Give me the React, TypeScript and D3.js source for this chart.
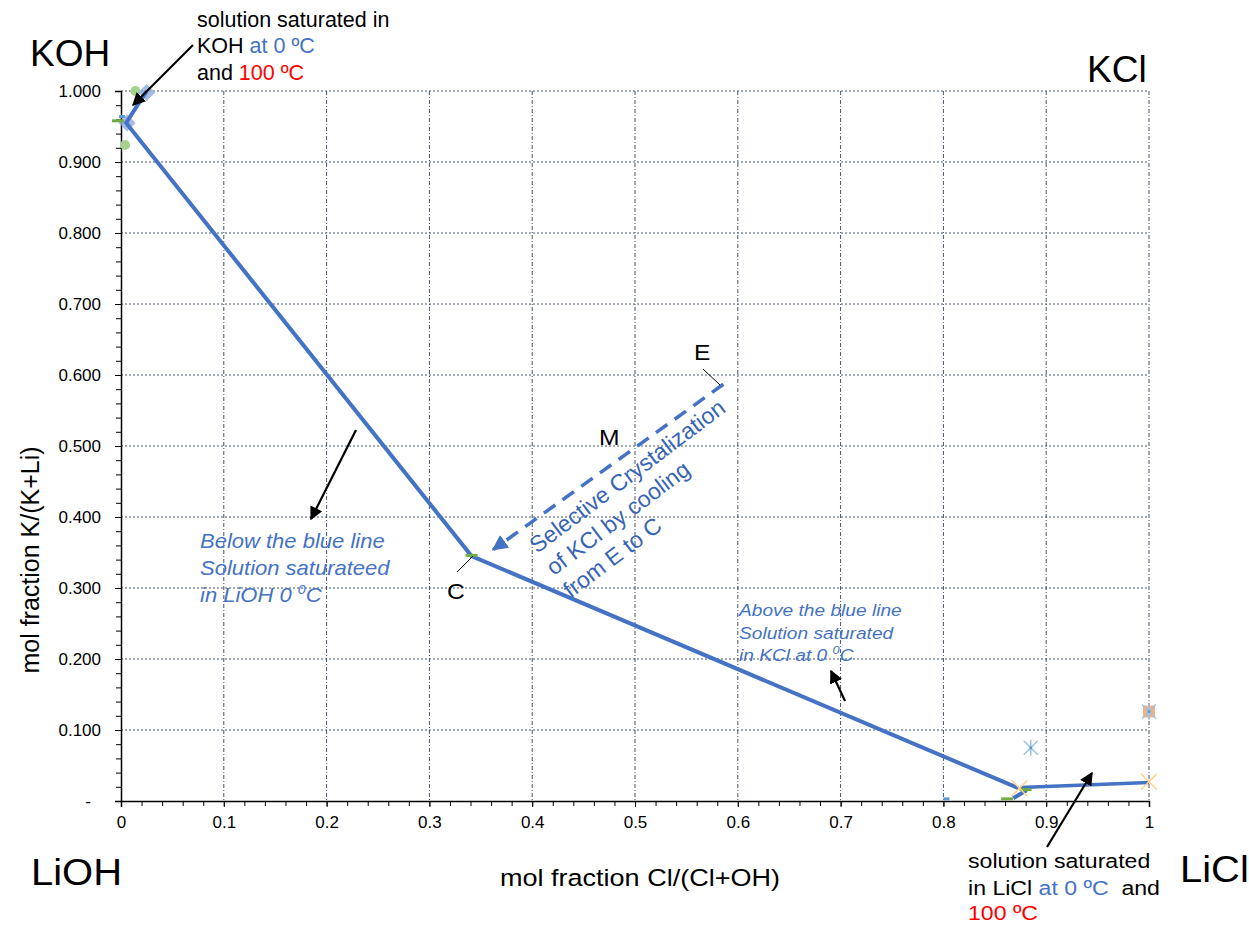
import React, { useEffect, useRef } from 'react'
import * as d3 from 'd3'

// phase diagram data, x = Cl/(Cl+OH), y = K/(K+Li)
const blueLine: [number, number][] = [[0.025, 1.0], [0.005, 0.955], [0.341, 0.345], [0.873, 0.018]]
const blueLine2: [number, number][] = [[0.875, 0.019], [1.0, 0.026]]
const blueStub: [number, number][] = [[0.868, 0.004], [0.881, 0.015]]
const greenDashes: [number, number][] = [[-0.003, 0.958], [0.341, 0.346], [0.862, 0.003], [0.880, 0.016]]
const blueDashes: [number, number][] = [[0.001, 0.964], [0.803, 0.003]]
const greenCircles: [number, number][] = [[0.014, 1.0], [0.004, 0.924]]
const diamonds: [number, number][] = [[0.025, 0.998], [0.006, 0.955]]
const orangeSquares: [number, number][] = [[1.0, 0.126]]
const asterisks: [number, number][] = [[0.885, 0.075], [1.0, 0.126]]
const orangeCrosses: [number, number][] = [[0.874, 0.018], [1.0, 0.027]]
const crystalPath: [number, number][] = [[0.586, 0.587], [0.362, 0.354]]

const xTicks = [0, 0.1, 0.2, 0.3, 0.4, 0.5, 0.6, 0.7, 0.8, 0.9, 1]
const yTicks = [0, 0.1, 0.2, 0.3, 0.4, 0.5, 0.6, 0.7, 0.8, 0.9, 1.0]

const FONT = 'Liberation Sans, Arial, sans-serif'
const BLUE = '#4472c4'

export default function App() {
  const ref = useRef<SVGSVGElement>(null)

  useEffect(() => {
    const svg = d3.select(ref.current)
    svg.selectAll('*').remove()

    const x = d3.scaleLinear().domain([0, 1]).range([121, 1149])
    const y = d3.scaleLinear().domain([0, 1]).range([801, 91])

    const defs = svg.append('defs')
    defs.append('marker')
      .attr('id', 'blackHead')
      .attr('viewBox', '0 0 10 10')
      .attr('refX', 9).attr('refY', 5)
      .attr('markerWidth', 6).attr('markerHeight', 6)
      .attr('markerUnits', 'strokeWidth')
      .attr('orient', 'auto')
      .append('path').attr('d', 'M0,0 L10,5 L0,10 z').attr('fill', '#000')
    defs.append('marker')
      .attr('id', 'blueHead')
      .attr('viewBox', '0 0 10 10')
      .attr('refX', 9).attr('refY', 5)
      .attr('markerWidth', 4.5).attr('markerHeight', 4.5)
      .attr('markerUnits', 'strokeWidth')
      .attr('orient', 'auto')
      .append('path').attr('d', 'M0,0 L10,5 L0,10 z').attr('fill', BLUE)

    // grid
    const grid = svg.append('g')
    grid.selectAll('.vg').data(xTicks.slice(1)).enter().append('line')
      .attr('x1', d => x(d)).attr('x2', d => x(d))
      .attr('y1', y(1)).attr('y2', y(0))
      .attr('stroke', '#44546a').attr('stroke-width', 1).attr('stroke-dasharray', '4,2,1,2')
    grid.selectAll('.hg').data(yTicks.slice(1)).enter().append('line')
      .attr('x1', x(0)).attr('x2', x(1))
      .attr('y1', d => y(d)).attr('y2', d => y(d))
      .attr('stroke', '#44546a').attr('stroke-width', 1).attr('stroke-dasharray', '2,2')

    // axes
    const xAxis = svg.append('g')
      .attr('transform', 'translate(0,' + y(0) + ')')
      .call(d3.axisBottom(x).tickValues(xTicks).tickSize(6).tickFormat(d => String(+(+d).toFixed(1))))
    xAxis.select('.domain').attr('stroke', '#000').attr('stroke-width', 1.5)
    xAxis.selectAll('text').attr('font-family', FONT).attr('font-size', 17).attr('dy', '1.05em')
    svg.append('g')
      .attr('transform', 'translate(0,' + y(0) + ')')
      .call(d3.axisBottom(x).tickValues(d3.range(0, 1.001, 0.02)).tickSize(5).tickFormat(() => ''))
      .select('.domain').remove()

    const yAxis = svg.append('g')
      .attr('transform', 'translate(' + x(0) + ',0)')
      .call(d3.axisLeft(y).tickValues(yTicks).tickSize(6).tickPadding(14)
        .tickFormat(d => (+d === 0 ? '-' : d3.format('.3f')(+d))))
    yAxis.select('.domain').attr('stroke', '#000').attr('stroke-width', 1.5)
    yAxis.selectAll('text').attr('font-family', FONT).attr('font-size', 17)
    yAxis.selectAll('.tick').filter(d => +d === 0).select('text').attr('dx', '-10')
    svg.append('g')
      .attr('transform', 'translate(' + x(0) + ',0)')
      .call(d3.axisLeft(y).tickValues(d3.range(0, 1.001, 0.02)).tickSize(5).tickFormat(() => ''))
      .select('.domain').remove()

    const line = d3.line<[number, number]>().x(d => x(d[0])).y(d => y(d[1]))

    // markers behind lines
    svg.selectAll('.gc').data(greenCircles).enter().append('circle')
      .attr('cx', d => x(d[0])).attr('cy', d => y(d[1])).attr('r', 5)
      .attr('fill', '#a9d18e')
    svg.selectAll('.dm').data(diamonds).enter().append('rect')
      .attr('x', -6).attr('y', -6).attr('width', 12).attr('height', 12)
      .attr('transform', d => 'translate(' + x(d[0]) + ',' + y(d[1]) + ') rotate(45)')
      .attr('fill', '#8faadc').attr('opacity', 0.8)
    svg.selectAll('.os').data(orangeSquares).enter().append('rect')
      .attr('x', d => x(d[0]) - 6).attr('y', d => y(d[1]) - 6).attr('width', 12).attr('height', 12)
      .attr('fill', '#f4b183')

    svg.append('path').datum(blueLine).attr('d', line)
      .attr('fill', 'none').attr('stroke', BLUE).attr('stroke-width', 4)
    svg.append('path').datum(blueLine2).attr('d', line)
      .attr('fill', 'none').attr('stroke', BLUE).attr('stroke-width', 3.5)
    svg.append('path').datum(blueStub).attr('d', line)
      .attr('fill', 'none').attr('stroke', BLUE).attr('stroke-width', 4)

    svg.selectAll('.gd').data(greenDashes).enter().append('line')
      .attr('x1', d => x(d[0]) - 6).attr('x2', d => x(d[0]) + 6)
      .attr('y1', d => y(d[1])).attr('y2', d => y(d[1]))
      .attr('stroke', '#70ad47').attr('stroke-width', 3)
    svg.selectAll('.bd').data(blueDashes).enter().append('line')
      .attr('x1', d => x(d[0]) - 3).attr('x2', d => x(d[0]) + 3)
      .attr('y1', d => y(d[1])).attr('y2', d => y(d[1]))
      .attr('stroke', '#5b9bd5').attr('stroke-width', 3)

    const ast = svg.selectAll('.as').data(asterisks).enter().append('g')
      .attr('transform', d => 'translate(' + x(d[0]) + ',' + y(d[1]) + ')')
    ast.append('path').attr('d', 'M-7,-7L7,7M-7,7L7,-7M0,-8L0,8')
      .attr('stroke', '#9dc3e6').attr('stroke-width', 1.5)
    ast.append('circle').attr('r', 1.5).attr('fill', '#5b9bd5')
    svg.selectAll('.oc').data(orangeCrosses).enter().append('path')
      .attr('transform', d => 'translate(' + x(d[0]) + ',' + y(d[1]) + ')')
      .attr('d', 'M-8,-8L8,8M-8,8L8,-8')
      .attr('stroke', '#ffd08a').attr('stroke-width', 1.5)

    // crystallization path E -> C
    svg.append('path').datum(crystalPath).attr('d', line)
      .attr('fill', 'none').attr('stroke', BLUE).attr('stroke-width', 3.5)
      .attr('stroke-dasharray', '14,9').attr('marker-end', 'url(#blueHead)')

    // black arrows
    const arrow = (x1: number, y1: number, x2: number, y2: number, w = 2.2) =>
      svg.append('line').attr('x1', x1).attr('y1', y1).attr('x2', x2).attr('y2', y2)
        .attr('stroke', '#000').attr('stroke-width', w).attr('marker-end', 'url(#blackHead)')
    arrow(193, 45, 133, 105)
    arrow(1047, 847, 1092, 773)
    arrow(356, 430, 311, 519)
    arrow(845, 701, 831, 671)

    const leader = (x1: number, y1: number, x2: number, y2: number) =>
      svg.append('line').attr('x1', x1).attr('y1', y1).attr('x2', x2).attr('y2', y2)
        .attr('stroke', '#000').attr('stroke-width', 1)
    leader(703, 369, 720, 385)
    leader(457, 572, 473, 556)

    // text helper: sx stretches glyphs horizontally like the source picture
    const txt = (s: string, tx: number, ty: number, size: number, opts: any = {}) =>
      svg.append('text')
        .attr('transform', 'translate(' + tx + ',' + ty + ') scale(' + (opts.sx || 1) + ',1)')
        .attr('font-family', FONT)
        .attr('font-size', size).attr('fill', opts.fill || '#000')
        .attr('text-anchor', opts.anchor || 'start')
        .attr('font-style', opts.italic ? 'italic' : 'normal')
        .text(s)

    txt('KOH', 30, 66, 37)
    txt('KCl', 1087, 82, 37)
    txt('LiOH', 31, 885, 37, { sx: 1.08 })
    txt('LiCl', 1180, 882, 37, { sx: 1.08 })
    txt('mol fraction Cl/(Cl+OH)', 640, 886, 23.5, { anchor: 'middle', sx: 1.15 })
    svg.append('text').attr('transform', 'translate(39,560) rotate(-90)')
      .attr('text-anchor', 'middle').attr('font-family', FONT).attr('font-size', 25)
      .text('mol fraction K/(K+Li)')

    txt('E', 694, 360, 22, { sx: 1.12 })
    txt('M', 599, 445, 22, { sx: 1.12 })
    txt('C', 447, 599, 22, { sx: 1.12 })

    // top annotation
    txt('solution saturated in', 197, 27, 21.5)
    const t2 = txt('KOH ', 197, 53, 21.5)
    t2.append('tspan').attr('fill', BLUE).text('at 0 ºC')
    const t3 = txt('and ', 197, 80, 21.5)
    t3.append('tspan').attr('fill', '#ff0000').text('100 ºC')

    // bottom annotation
    txt('solution saturated', 968, 868, 21, { sx: 1.1 })
    const b2 = txt('in LiCl ', 968, 895, 21, { sx: 1.1 })
    b2.append('tspan').attr('fill', BLUE).text('at 0 ºC')
    b2.append('tspan').text('\u00a0 and')
    txt('100 ºC', 968, 920, 21, { fill: '#ff0000', sx: 1.1 })

    // region notes
    const below = { fill: BLUE, italic: true, sx: 1.1 }
    txt('Below the blue line', 200, 548, 20, below)
    txt('Solution saturateed', 200, 575, 20, below)
    const n3 = txt('in LiOH 0 ', 200, 602, 20, below)
    n3.append('tspan').attr('font-size', 13).attr('dy', -8).text('0')
    n3.append('tspan').attr('dy', 8).text('C')

    const above = { fill: BLUE, italic: true, sx: 1.16 }
    txt('Above the blue line', 739, 616, 16.5, above)
    txt('Solution saturated', 739, 639, 16.5, above)
    const a3 = txt('in KCl at 0 ', 739, 661, 16.5, above)
    a3.append('tspan').attr('font-size', 11).attr('dy', -7).text('0')
    a3.append('tspan').attr('dy', 7).text('C')

    const rot = svg.append('g').attr('transform', 'translate(537,554) rotate(-37)')
    ;['Selective Crystalization', 'of KCl by cooling', 'from E to C'].forEach((s, i) => {
      rot.append('text').attr('x', 0).attr('y', i * 28).attr('font-family', FONT)
        .attr('font-size', 23).attr('fill', '#3864b4').text(s)
    })
  }, [])

  return (
    <svg ref={ref} width={1249} height={926}
      style={{ position: 'absolute', left: 0, top: 0, background: '#fff' }}></svg>
  )
}
